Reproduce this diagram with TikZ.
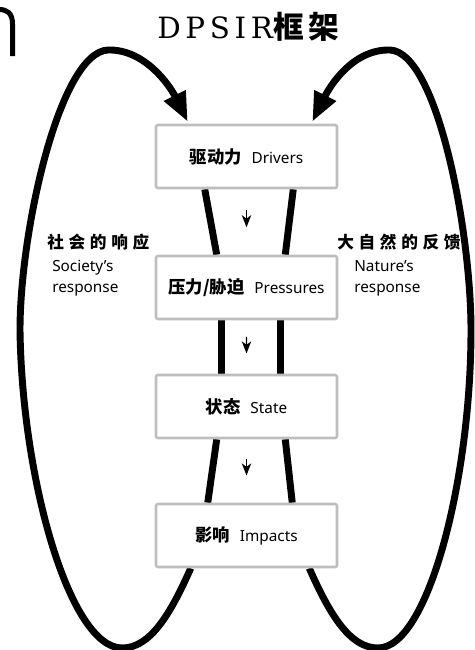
\documentclass[tikz,border=0pt]{standalone}
\usepackage{fontspec}
\setmainfont{Liberation Serif}
\newfontfamily\cjk{Noto Sans CJK SC}
\newfontfamily\lat{Noto Sans}
\newfontfamily\cjkls{Noto Sans CJK SC}[LetterSpace=28]
\newfontfamily\cjktitle{Noto Sans CJK SC}[LetterSpace=15]
\newfontfamily\titleserif{DejaVu Serif}[LetterSpace=16]
\usetikzlibrary{arrows.meta,calc,backgrounds}
\definecolor{boxgray}{HTML}{BEBEBE}
\newcommand{\stagetext}[3]{\raisebox{-2.5pt}{{\cjk\bfseries\fontsize{13}{15}\selectfont #1}\hspace{7.5pt}{\lat\fontsize{11.5}{13}\selectfont #2}}\hspace{#3}}
\tikzset{
  stage/.style={draw=boxgray, line width=1.9pt, fill=white, rounded corners=1.5pt,
    minimum width=135.75pt, minimum height=47.25pt, inner sep=0pt},
  band/.style={line width=5.2pt},
  bigloop/.style={line width=5.2pt, -{Triangle[length=22pt,width=17pt]}},
  flowarrow/.style={line width=1.1pt, -{Stealth[length=9pt,width=7pt,inset=2.5pt]}},
  cjkhead/.style={font=\cjkls\bfseries\fontsize{12.5}{15}\selectfont, anchor=west, inner sep=0pt},
  engl/.style={font=\lat\fontsize{11.5}{15.75}\selectfont, anchor=west, align=left, inner sep=0pt},
}
\begin{document}
\begin{tikzpicture}[x=0.75pt,y=-0.75pt]
\useasboundingbox (0,0) rectangle (475,650);

% title
\node[inner sep=0pt, anchor=west] (title) at (157,27)
  {{\titleserif\fontsize{22}{26}\selectfont DPSIR}{\cjktitle\bfseries\fontsize{23}{26}\selectfont 框架}};

% cropped glyph at top left
\draw[line width=3.75pt] (12.5,56) -- (12.5,24) .. controls (12.5,13) and (7,9.5) .. (-1,9.5);

% stages
\node[stage] (d) at (246.5,156.5) {\stagetext{驱动力}{Drivers}{17pt}};
\node[stage] (p) at (246.5,287.5) {\stagetext{压力/胁迫}{Pressures}{12pt}};
\node[stage] (s) at (246.5,406.5) {\stagetext{状态}{State}{21pt}};
\node[stage] (i) at (246.5,535.5) {\stagetext{影响}{Impacts}{10pt}};

% side labels
\node[cjkhead] (lh) at (47,242) {社会的响应};
\node[engl] (ls) at (52,278) {Society’s\\response};
\node[cjkhead] (rh) at (337,242) {大自然的反馈};
\node[engl] (rs) at (354,278) {Nature’s\\response};

\begin{scope}[on background layer]
  % bands between stages
  \draw[band] ($(d.south west)+(50,0)$) -- ($(p.north west)+(62,0)$);
  \draw[band] ($(d.south east)+(-45,0)$) -- ($(p.north east)+(-53,0)$);
  \draw[band] ($(p.south west)+(67,0)$) -- ($(s.north west)+(67,0)$);
  \draw[band] ($(p.south east)+(-58,0)$) -- ($(s.north east)+(-58,0)$);
  \draw[band] ($(s.south west)+(62,0)$) -- ($(i.north west)+(53,0)$);
  \draw[band] ($(s.south east)+(-53,0)$) -- ($(i.north east)+(-46,0)$);

  % big loops
  \coordinate (ls0) at ($(i.south west)+(36,0)$);
  \coordinate (lt) at ($(d.north west)+(33,-2)$);
  \draw[bigloop] (ls0) .. controls (170,615) and (150,648) .. (122,648)
     .. controls (70,648) and (22,480) .. (20,330)
     .. controls (20,230) and (60,52) .. (108,50)
     .. controls (145,49) and (170,86) .. (lt);
  \coordinate (rs0) at ($(i.south east)+(-29,0)$);
  \coordinate (rt) at ($(d.north east)+(-26,-2)$);
  \draw[bigloop] (rs0) .. controls (330,615) and (350,648) .. (378,648)
     .. controls (428,648) and (471,480) .. (471,330)
     .. controls (471,230) and (437,52) .. (390,50)
     .. controls (353,49) and (330,86) .. (rt);
\end{scope}

% flow arrows
\draw[flowarrow] ($(d.south)!0.32!(p.north)$) -- ($(d.south)!0.58!(p.north)$);
\draw[flowarrow] ($(p.south)!0.31!(s.north)$) -- ($(p.south)!0.62!(s.north)$);
\draw[flowarrow] ($(s.south)!0.31!(i.north)$) -- ($(s.south)!0.57!(i.north)$);
\end{tikzpicture}
\end{document}
